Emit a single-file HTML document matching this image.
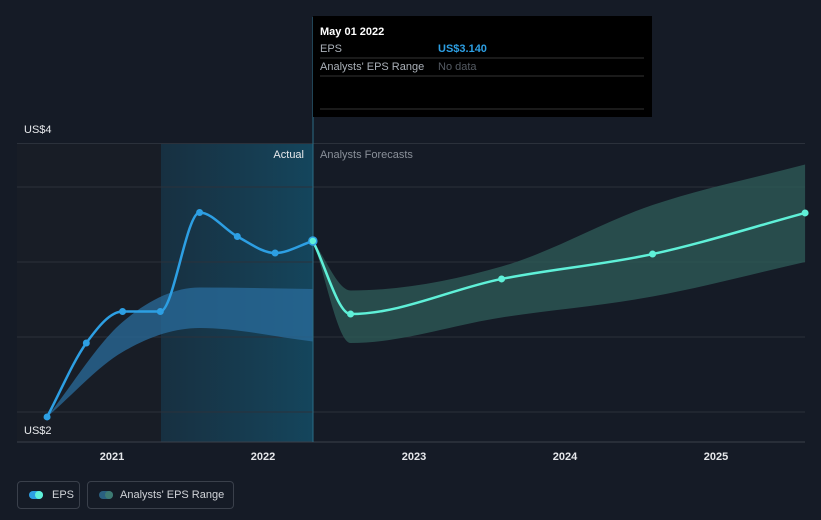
<!DOCTYPE html>
<html><head><meta charset="utf-8"><style>
body{margin:0;background:#151b26;font-family:"Liberation Sans",sans-serif;}
svg{display:block}
.btn{position:absolute;top:481px;height:28px;border:1px solid #3a404b;border-radius:4px;color:#d0d3d8;font-size:11px;line-height:26px;box-sizing:border-box;white-space:nowrap;}
</style></head><body>
<div style="position:relative;width:821px;height:520px;overflow:hidden">
<svg id="c" width="821" height="520">
<defs>
<linearGradient id="hl" x1="0" x2="1" y1="0" y2="0"><stop offset="0" stop-color="#1a4a62" stop-opacity="0.45"/><stop offset="1" stop-color="#14506a" stop-opacity="0.8"/></linearGradient>
</defs>
<rect x="17" y="143" width="144" height="299" fill="#181d26"/>
<rect x="161" y="143" width="152" height="299" fill="url(#hl)"/>
<g id="grid"></g>
<g id="bands"></g>
<line x1="313" y1="17" x2="313" y2="442" stroke="#2a6d86" stroke-width="1"/>
<g id="lines"></g>
<text x="304" y="158" fill="#e6e8eb" font-size="11" text-anchor="end">Actual</text>
<text x="320" y="158" fill="#8a9099" font-size="11">Analysts Forecasts</text>
<text x="24" y="133" fill="#e6e8eb" font-size="11">US$4</text>
<text x="24" y="434" fill="#e6e8eb" font-size="11">US$2</text>
<g id="xt"></g>
<rect x="313" y="16" width="339" height="101" fill="#000"/>
<text x="320" y="35" fill="#fff" font-size="11" font-weight="bold">May 01 2022</text>
<text x="320" y="52" fill="#aab0b8" font-size="11">EPS</text>
<text x="438" y="52" fill="#2d9fe3" font-size="11" font-weight="bold">US$3.140</text>
<line x1="320" y1="58" x2="644" y2="58" stroke="#333"/>
<text x="320" y="70" fill="#aab0b8" font-size="11">Analysts' EPS Range</text>
<text x="438" y="70" fill="#555b63" font-size="11">No data</text>
<line x1="320" y1="76" x2="644" y2="76" stroke="#333"/>
<line x1="320" y1="109" x2="644" y2="109" stroke="#333"/>
</svg>
<div class="btn" style="left:17px;width:63px"><span style="position:absolute;left:11px;top:9px;width:14px;height:8px;border-radius:4px;background:#2d9fe3"></span><span style="position:absolute;left:17px;top:9px;width:8px;height:8px;border-radius:4px;background:#5ff0d8"></span><span style="position:absolute;left:34px">EPS</span></div>
<div class="btn" style="left:87px;width:147px"><span style="position:absolute;left:11px;top:9px;width:14px;height:8px;border-radius:4px;background:#2a6080"></span><span style="position:absolute;left:17px;top:9px;width:8px;height:8px;border-radius:4px;background:#3d7a72"></span><span style="position:absolute;left:32px">Analysts' EPS Range</span></div>
</div>
<script>
const NS="http://www.w3.org/2000/svg";
const yTicks=[2,2.5,3,3.5,3.79];
const xTickYears=[2021,2022,2023,2024,2025];
const pastDates=[2020.57,2020.83,2021.07,2021.32,2021.58,2021.83,2022.08,2022.33];
const pastEps=[1.967,2.46,2.67,2.67,3.33,3.17,3.06,3.14];
const fcDates=[2022.33,2022.58,2023.58,2024.58,2025.59];
const fcEps=[3.14,2.653,2.887,3.053,3.327];
const pastBandDates=[2020.57,2021.07,2021.58,2022.33];
const pastBandHi=[1.967,2.6,2.83,2.82];
const pastBandLo=[1.967,2.4,2.56,2.47];
const fcBandDates=[2022.33,2022.58,2023.58,2024.58,2025.59];
const fcBandHi=[3.14,2.81,2.97,3.38,3.65];
const fcBandLo=[3.14,2.46,2.63,2.77,3.0];
const X=d=>263+(d-2022)*151;
const Y=v=>412-(v-2)*150;
function el(t,a,p){const e=document.createElementNS(NS,t);for(const k in a)e.setAttribute(k,a[k]);document.getElementById(p).appendChild(e);return e;}
function mono(px,py,start){const n=px.length;const d=[],m=[];for(let i=0;i<n-1;i++)d.push((py[i+1]-py[i])/(px[i+1]-px[i]));
for(let i=0;i<n;i++){if(i===0)m.push(d[0]);else if(i===n-1)m.push(d[n-2]);else m.push(d[i-1]*d[i]<=0?0:(d[i-1]+d[i])/2);}
for(let i=0;i<n-1;i++){if(d[i]===0){m[i]=0;m[i+1]=0;continue;}const a=m[i]/d[i],b=m[i+1]/d[i],s=a*a+b*b;if(s>9){const t=3/Math.sqrt(s);m[i]=t*a*d[i];m[i+1]=t*b*d[i];}}
let s=(start?"M":"L")+px[0]+","+py[0];for(let i=0;i<n-1;i++){const h=(px[i+1]-px[i])/3;s+=" C"+(px[i]+h)+","+(py[i]+m[i]*h)+" "+(px[i+1]-h)+","+(py[i+1]-m[i+1]*h)+" "+px[i+1]+","+py[i+1];}return s;}
function line(xs,ys){return mono(xs.map(X),ys.map(Y),true);}
function band(xs,hi,lo){const px=xs.map(X);let s=mono(px,hi.map(Y),true);
const rx=px.slice().reverse(),ry=lo.map(Y).reverse();
const fwd=mono(px,lo.map(Y),true);const segs=fwd.split(" C").slice(1).map(t=>t.split(" ").map(p=>p.split(",").map(Number)));
s+=" L"+rx[0]+","+ry[0];
for(let i=segs.length-1;i>=0;i--){const [c1,c2,e]=segs[i];const endPt=i===0?[px[0],Y(lo[0])]:segs[i-1][2];s+=" C"+c2[0]+","+c2[1]+" "+c1[0]+","+c1[1]+" "+endPt[0]+","+endPt[1];}
return s+"Z";}
yTicks.forEach(v=>{const g=el("line",{x1:17,x2:805,y1:Y(v),y2:Y(v),stroke:"#2b313b"},"grid");

});
const ax=el("line",{x1:17,x2:805,y1:442,y2:442,stroke:"#3a404b"},"grid");


xTickYears.forEach(y=>{const t=el("text",{x:X(y),y:460,fill:"#e6e8eb","font-size":11,"text-anchor":"middle","font-weight":"bold"},"xt");t.textContent=y;

});
const pb=el("path",{d:band(pastBandDates,pastBandHi,pastBandLo),fill:"#2a6c9c",opacity:0.75},"bands");


const fb=el("path",{d:band(fcBandDates,fcBandHi,fcBandLo),fill:"#2f5e5a",opacity:0.75},"bands");


const pl=el("path",{d:line(pastDates,pastEps),fill:"none",stroke:"#2d9fe3","stroke-width":2.5},"lines");


const fl=el("path",{d:line(fcDates,fcEps),fill:"none",stroke:"#5ff0d8","stroke-width":2.5},"lines");


pastDates.forEach((d,i)=>{const last=i===pastDates.length-1;const c=el("circle",{cx:X(d),cy:Y(pastEps[i]),r:last?4:3.5,fill:last?"#5ff0d8":"#2d9fe3",stroke:last?"#2d9fe3":"none","stroke-width":1.5},"lines");

});
fcDates.slice(1).forEach((d,i)=>{const c=el("circle",{cx:X(d),cy:Y(fcEps[i+1]),r:3.5,fill:"#5ff0d8"},"lines");

});
</script>
</body></html>
